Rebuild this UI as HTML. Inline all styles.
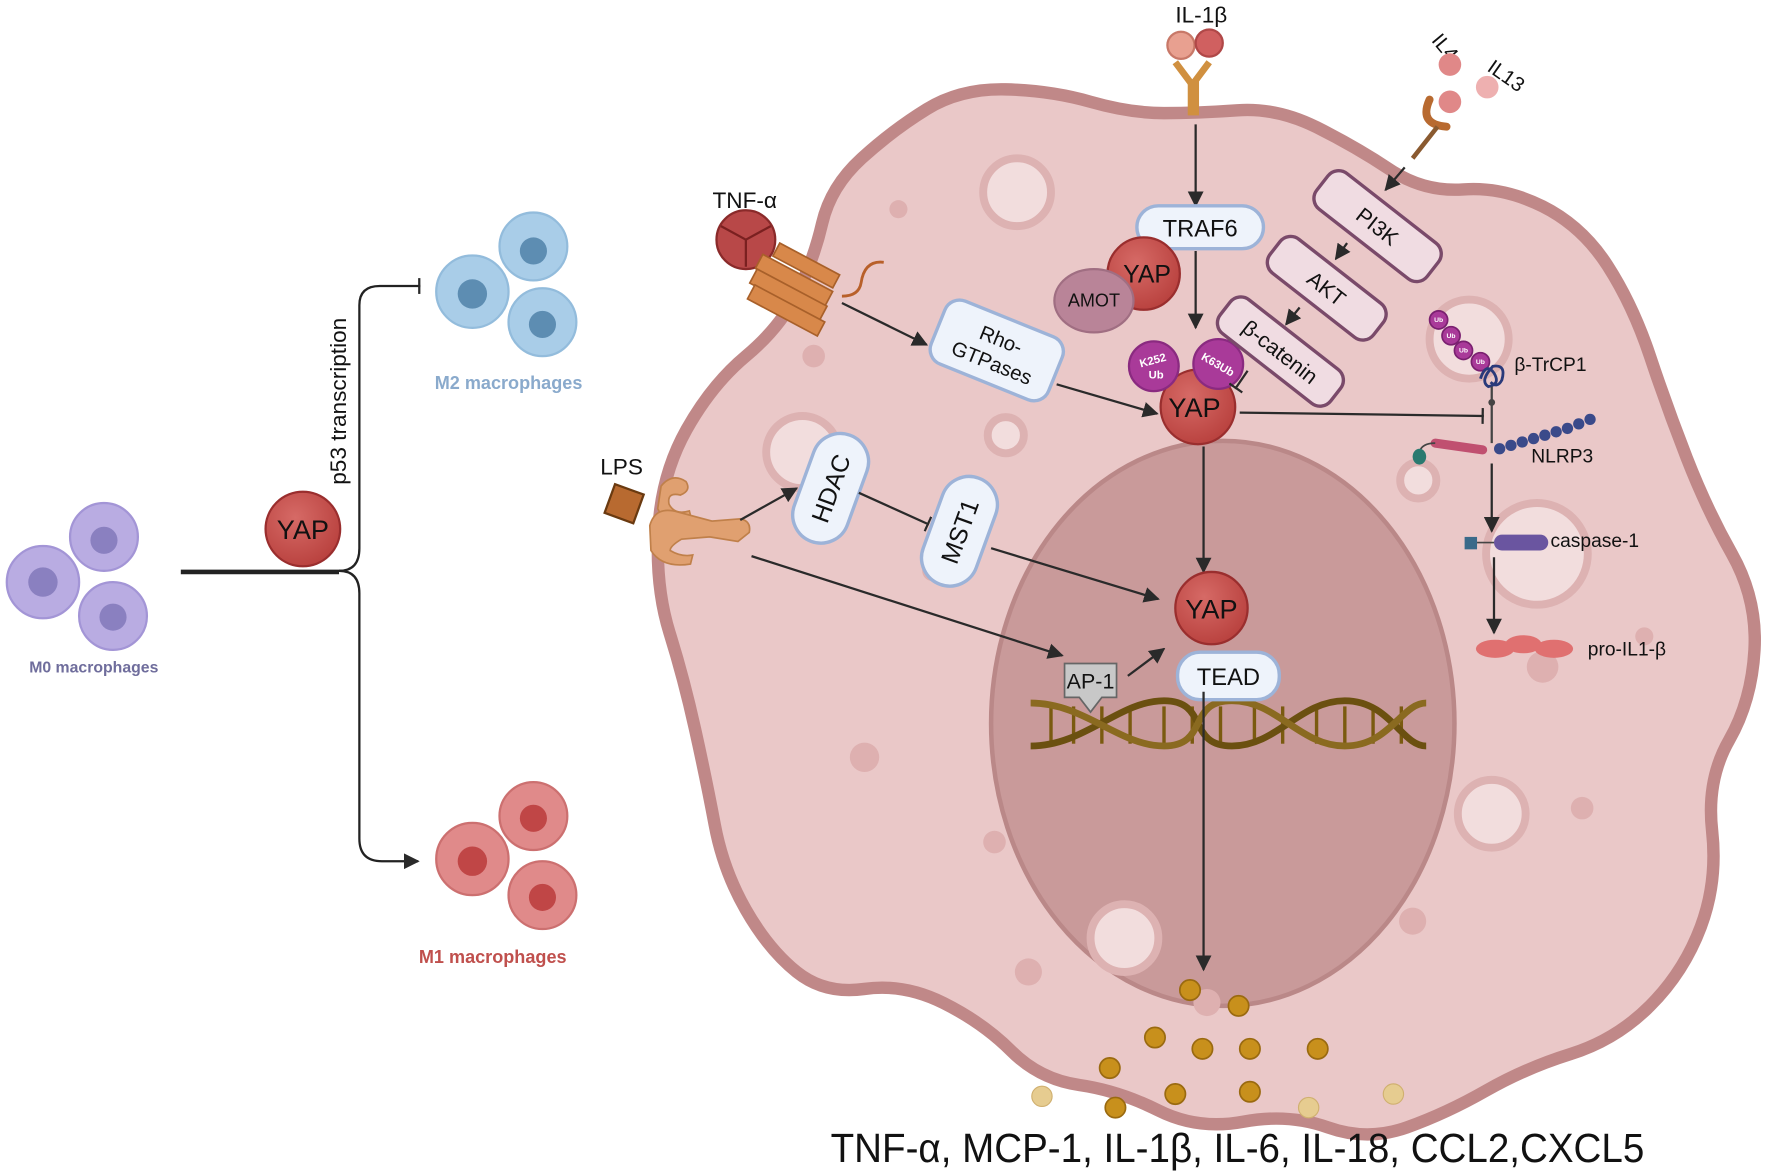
<!DOCTYPE html>
<html><head><meta charset="utf-8"><style>
html,body{margin:0;padding:0;background:#fff;}
svg{display:block;}
text{font-family:"Liberation Sans",sans-serif;}
</style></head><body>
<svg width="1772" height="1171" viewBox="0 0 1568 1036" xmlns="http://www.w3.org/2000/svg">
<defs>
<marker id="ar" viewBox="0 0 10 10" refX="9" refY="5" markerWidth="7" markerHeight="7" orient="auto"><path d="M0,0 L10,5 L0,10 z" fill="#2a2a2a"/></marker>
<marker id="tb" viewBox="0 0 4 14" refX="2" refY="7" markerWidth="4" markerHeight="14" markerUnits="userSpaceOnUse" orient="auto"><rect x="0" y="0" width="2" height="14" fill="#2a2a2a"/></marker>
<radialGradient id="yg" cx="0.4" cy="0.35" r="0.7"><stop offset="0" stop-color="#d66a66"/><stop offset="1" stop-color="#b8403d"/></radialGradient>
</defs>
<rect width="1568" height="1036" fill="#fff"/>

<path d="M762.5,140 Q790,115 820,96.5 Q850,78 890,79 Q930,80 965,90 Q1000,100 1030,100 Q1060,100 1095,97.5 Q1130,95 1165,112.5 Q1200,130 1230,150 Q1260,170 1295,167.5 Q1330,165 1365,182.5 Q1400,200 1422.5,235 Q1445,270 1460,315 Q1475,360 1492.5,405 Q1510,450 1532.5,490 Q1555,530 1552.5,575 Q1550,620 1530,655 Q1510,690 1515,735 Q1520,780 1505,820 Q1490,860 1460,890 Q1430,920 1390,932.5 Q1350,945 1315,965 Q1280,985 1245,997.5 Q1210,1010 1175,997.5 Q1140,985 1100,992.5 Q1060,1000 1025,982.5 Q990,965 955,960 Q920,955 895,930 Q870,905 835,887.5 Q800,870 765,875 Q730,880 705,860 Q680,840 660,805 Q640,770 632.5,730 Q625,690 615,645 Q605,600 592.5,560 Q580,520 582.5,470 Q585,420 607.5,380 Q630,340 660,315 Q690,290 705,260 Q720,230 727.5,197.5 Q735,165 762.5,140 Z" fill="#eac8c8" stroke="#c08888" stroke-width="11"/>
<ellipse cx="1082" cy="640" rx="205" ry="250" fill="#c99a9a" stroke="#ba8888" stroke-width="4"/>

<g fill="#f2dddd" stroke="#ddb2b2" stroke-width="7">
<circle cx="900" cy="170" r="30"/><circle cx="1300" cy="300" r="35"/><circle cx="710" cy="400" r="32"/><circle cx="890" cy="385" r="16"/><circle cx="1255" cy="425" r="16"/><circle cx="1360" cy="490" r="45"/><circle cx="1320" cy="720" r="30"/><circle cx="995" cy="830" r="30"/>
</g>
<g fill="#deb0b0">
<circle cx="795" cy="185" r="8"/><circle cx="720" cy="315" r="10"/><circle cx="765" cy="670" r="13"/><circle cx="880" cy="745" r="10"/><circle cx="1400" cy="715" r="10"/><circle cx="1250" cy="815" r="12"/><circle cx="910" cy="860" r="12"/><circle cx="1068" cy="887" r="12"/><circle cx="1365" cy="590" r="14"/><circle cx="1455" cy="563" r="8"/><circle cx="825" cy="505" r="9"/>
</g>

<g>
<circle cx="38" cy="515" r="32" fill="#b9ace2" stroke="#a395d6" stroke-width="2"/><circle cx="38" cy="515" r="13" fill="#8a80c0"/>
<circle cx="92" cy="475" r="30" fill="#b9ace2" stroke="#a395d6" stroke-width="2"/><circle cx="92" cy="478" r="12" fill="#8a80c0"/>
<circle cx="100" cy="545" r="30" fill="#b9ace2" stroke="#a395d6" stroke-width="2"/><circle cx="100" cy="546" r="12" fill="#8a80c0"/>
<text x="83" y="595" font-size="14" font-weight="bold" fill="#6f6d9c" text-anchor="middle">M0 macrophages</text>
<path d="M160,505 H300 Q318,505 318,485 V270 Q318,253 336,253 H372" fill="none" stroke="#222" stroke-width="2" marker-end="url(#tb)"/>
<path d="M300,505 Q318,505 318,525 V742 Q318,762 338,762 H370" fill="none" stroke="#222" stroke-width="2" marker-end="url(#ar)"/>
<line x1="160" y1="507" x2="300" y2="507" stroke="#222" stroke-width="2"/>
<circle cx="268" cy="468" r="33" fill="url(#yg)" stroke="#9a2e2e" stroke-width="2"/>
<text x="268" y="477" font-size="24" text-anchor="middle" fill="#111">YAP</text>
<text transform="translate(306,355) rotate(-90)" font-size="20" text-anchor="middle" fill="#111">p53 transcription</text>
<circle cx="418" cy="258" r="32" fill="#a9cde8" stroke="#93bcdc" stroke-width="2"/><circle cx="418" cy="260" r="13" fill="#5d8db2"/>
<circle cx="472" cy="218" r="30" fill="#a9cde8" stroke="#93bcdc" stroke-width="2"/><circle cx="472" cy="222" r="12" fill="#5d8db2"/>
<circle cx="480" cy="285" r="30" fill="#a9cde8" stroke="#93bcdc" stroke-width="2"/><circle cx="480" cy="287" r="12" fill="#5d8db2"/>
<text x="450" y="344" font-size="16" font-weight="bold" fill="#8aaacc" text-anchor="middle">M2 macrophages</text>
<circle cx="418" cy="760" r="32" fill="#e08a8a" stroke="#cc7070" stroke-width="2"/><circle cx="418" cy="762" r="13" fill="#c04646"/>
<circle cx="472" cy="722" r="30" fill="#e08a8a" stroke="#cc7070" stroke-width="2"/><circle cx="472" cy="724" r="12" fill="#c04646"/>
<circle cx="480" cy="792" r="30" fill="#e08a8a" stroke="#cc7070" stroke-width="2"/><circle cx="480" cy="794" r="12" fill="#c04646"/>
<text x="436" y="852" font-size="16" font-weight="bold" fill="#c0504d" text-anchor="middle">M1 macrophages</text>
</g>

<text x="1063" y="20" font-size="20" text-anchor="middle" fill="#111">IL-1β</text>
<circle cx="1045" cy="40" r="12" fill="#e8a090" stroke="#c87868" stroke-width="2"/><circle cx="1070" cy="38" r="12" fill="#d06060" stroke="#b04848" stroke-width="2"/>
<path d="M1040,55 L1055,75 L1070,55" fill="none" stroke="#d09040" stroke-width="6"/>
<rect x="1051" y="72" width="10" height="30" fill="#d09040"/>
<line x1="1058" y1="110" x2="1058" y2="182" stroke="#2a2a2a" stroke-width="2" marker-end="url(#ar)"/>

<text transform="translate(1266,36) rotate(50)" font-size="18" fill="#111">IL4,</text>
<text transform="translate(1315,62) rotate(35)" font-size="18" fill="#111">IL13</text>
<circle cx="1283" cy="57" r="10" fill="#e08888"/><circle cx="1316" cy="77" r="10" fill="#eeb0b0"/><circle cx="1283" cy="90" r="10" fill="#e08888"/>
<path d="M1265,88 Q1255,110 1280,112" fill="none" stroke="#b86a30" stroke-width="7" stroke-linecap="round"/>
<line x1="1272" y1="112" x2="1250" y2="140" stroke="#8a5a30" stroke-width="4"/>
<line x1="1243" y1="148" x2="1226" y2="168" stroke="#2a2a2a" stroke-width="2" marker-end="url(#ar)"/>

<rect x="1006" y="182" width="112" height="38" rx="19" fill="#eef3fb" stroke="#9db3d8" stroke-width="3"/>
<text x="1062" y="209" font-size="21" text-anchor="middle" fill="#111">TRAF6</text>
<circle cx="1012" cy="242" r="32" fill="url(#yg)" stroke="#9a2e2e" stroke-width="2"/>
<ellipse cx="968" cy="266" rx="35" ry="28" fill="#b98498" stroke="#a06e82" stroke-width="2"/>
<text x="1015" y="250" font-size="22" text-anchor="middle" fill="#111">YAP</text>
<text x="968" y="271" font-size="16" text-anchor="middle" fill="#111">AMOT</text>
<line x1="1058" y1="222" x2="1058" y2="290" stroke="#2a2a2a" stroke-width="2" marker-end="url(#ar)"/>

<circle cx="1060" cy="360" r="33" fill="url(#yg)" stroke="#9a2e2e" stroke-width="2"/>
<text x="1057" y="369" font-size="24" text-anchor="middle" fill="#111">YAP</text>
<circle cx="1021" cy="324" r="22" fill="#a93a99" stroke="#8a2a80" stroke-width="2"/>
<circle cx="1078" cy="322" r="22" fill="#a93a99" stroke="#8a2a80" stroke-width="2"/>
<text x="1021" y="322" font-size="10" font-weight="bold" text-anchor="middle" fill="#fff" transform="rotate(-15 1021 322)">K252</text>
<text x="1023" y="335" font-size="10" font-weight="bold" text-anchor="middle" fill="#fff">Ub</text>
<text x="1078" y="326" font-size="10" font-weight="bold" text-anchor="middle" fill="#fff" transform="rotate(30 1078 322)">K63Ub</text>

<g transform="translate(1219,200) rotate(38)"><rect x="-62" y="-20" width="124" height="40" rx="12" fill="#f0dce2" stroke="#7a4a6a" stroke-width="3"/><text y="7" font-size="19" text-anchor="middle" fill="#111">PI3K</text></g>
<g transform="translate(1174,255) rotate(38)"><rect x="-58" y="-19" width="116" height="38" rx="12" fill="#f0dce2" stroke="#7a4a6a" stroke-width="3"/><text y="7" font-size="19" text-anchor="middle" fill="#111">AKT</text></g>
<g transform="translate(1133,311) rotate(38)"><rect x="-62" y="-19" width="124" height="38" rx="12" fill="#f0dce2" stroke="#7a4a6a" stroke-width="3"/><text y="7" font-size="19" text-anchor="middle" fill="#111">β-catenin</text></g>
<line x1="1192" y1="215" x2="1182" y2="229" stroke="#2a2a2a" stroke-width="2" marker-end="url(#ar)"/>
<line x1="1150" y1="272" x2="1138" y2="287" stroke="#2a2a2a" stroke-width="2" marker-end="url(#ar)"/>
<line x1="1104" y1="328" x2="1093" y2="344" stroke="#2a2a2a" stroke-width="2" marker-end="url(#tb)"/>

<text x="659" y="184" font-size="20" text-anchor="middle" fill="#111">TNF-α</text>
<circle cx="660" cy="212" r="26" fill="#b84848" stroke="#8a2a2a" stroke-width="2"/>
<path d="M660,212 L660,236 M660,212 L638,200 M660,212 L682,200" stroke="#7a2020" stroke-width="2"/>
<g fill="#d8884a" stroke="#a8602a" stroke-width="1.5">
<rect x="675" y="225" width="70" height="14" transform="rotate(28 675 225)"/>
<rect x="670" y="238" width="70" height="14" transform="rotate(28 670 238)"/>
<rect x="668" y="252" width="70" height="14" transform="rotate(28 668 252)"/>
<rect x="690" y="215" width="60" height="13" transform="rotate(28 690 215)"/>
</g>
<path d="M745,262 Q760,262 762,250 Q765,230 782,232" fill="none" stroke="#b8602a" stroke-width="2.5"/>
<line x1="745" y1="268" x2="820" y2="305" stroke="#2a2a2a" stroke-width="2" marker-end="url(#ar)"/>
<g transform="translate(882,310) rotate(22)"><rect x="-56" y="-30" width="112" height="60" rx="14" fill="#eef3fb" stroke="#9db3d8" stroke-width="3"/><text y="-4" font-size="18" text-anchor="middle" fill="#111">Rho-</text><text y="18" font-size="18" text-anchor="middle" fill="#111">GTPases</text></g>
<line x1="935" y1="340" x2="1024" y2="366" stroke="#2a2a2a" stroke-width="2" marker-end="url(#ar)"/>

<line x1="1097" y1="365" x2="1313" y2="368" stroke="#2a2a2a" stroke-width="2" marker-end="url(#tb)"/>

<g fill="#a93a99" stroke="#7a2070" stroke-width="1.5">
<circle cx="1273" cy="283" r="8"/><circle cx="1284" cy="297" r="8"/><circle cx="1295" cy="310" r="8"/><circle cx="1310" cy="320" r="8"/>
</g>
<g font-size="6" font-weight="bold" fill="#fff" text-anchor="middle"><text x="1273" y="285">Ub</text><text x="1284" y="299">Ub</text><text x="1295" y="312">Ub</text><text x="1310" y="322">Ub</text></g>
<path d="M1310,335 q5,-15 12,-5 q6,10 -5,12 q-8,-5 4,-18 q12,-2 8,12 q-4,8 -10,2" fill="none" stroke="#2a3a7a" stroke-width="2.5"/>
<text x="1340" y="328" font-size="17" fill="#111">β-TrCP1</text>
<line x1="1320" y1="342" x2="1320" y2="392" stroke="#444" stroke-width="2"/>
<circle cx="1320" cy="356" r="3" fill="#444"/>
<line x1="1270" y1="392" x2="1312" y2="398" stroke="#c05070" stroke-width="8" stroke-linecap="round"/>
<path d="M1270,392 q-12,0 -14,8" fill="none" stroke="#444" stroke-width="1.5"/>
<ellipse cx="1256" cy="404" rx="6" ry="7" fill="#2a7a70"/>
<g fill="#3a4a8a">
<circle cx="1327" cy="397" r="5"/><circle cx="1337" cy="394" r="5"/><circle cx="1347" cy="391" r="5"/><circle cx="1357" cy="388" r="5"/><circle cx="1367" cy="385" r="5"/><circle cx="1377" cy="382" r="5"/><circle cx="1387" cy="379" r="5"/><circle cx="1397" cy="375" r="5"/><circle cx="1407" cy="371" r="5"/>
</g>
<text x="1355" y="409" font-size="17" fill="#111">NLRP3</text>
<line x1="1320" y1="410" x2="1320" y2="470" stroke="#2a2a2a" stroke-width="2" marker-end="url(#ar)"/>
<rect x="1296" y="475" width="11" height="11" fill="#3a6a8a"/>
<line x1="1307" y1="480" x2="1322" y2="480" stroke="#444" stroke-width="1.5"/>
<rect x="1322" y="473" width="48" height="14" rx="7" fill="#6a55a0"/>
<text x="1372" y="484" font-size="17" fill="#111">caspase-1</text>
<line x1="1322" y1="493" x2="1322" y2="560" stroke="#2a2a2a" stroke-width="2" marker-end="url(#ar)"/>
<ellipse cx="1323" cy="574" rx="17" ry="8" fill="#e07070"/><ellipse cx="1348" cy="570" rx="16" ry="8" fill="#e07070"/><ellipse cx="1375" cy="574" rx="17" ry="8" fill="#e07070"/>
<text x="1405" y="580" font-size="17" fill="#111">pro-IL1-β</text>

<line x1="1065" y1="395" x2="1065" y2="506" stroke="#2a2a2a" stroke-width="2" marker-end="url(#ar)"/>
<g stroke="#7a5a10" stroke-width="3">
<line x1="930" y1="625" x2="930" y2="658"/><line x1="950" y1="625" x2="950" y2="658"/><line x1="975" y1="625" x2="975" y2="658"/><line x1="1000" y1="625" x2="1000" y2="658"/><line x1="1030" y1="625" x2="1030" y2="658"/><line x1="1055" y1="625" x2="1055" y2="658"/><line x1="1080" y1="625" x2="1080" y2="658"/><line x1="1110" y1="625" x2="1110" y2="658"/><line x1="1135" y1="625" x2="1135" y2="658"/><line x1="1165" y1="625" x2="1165" y2="658"/><line x1="1190" y1="625" x2="1190" y2="658"/><line x1="1215" y1="625" x2="1215" y2="658"/><line x1="1240" y1="625" x2="1240" y2="658"/>
</g>
<path d="M912,660 C960,660 990,620 1030,620 C1070,620 1050,660 1090,660 C1130,660 1150,620 1190,620 C1230,620 1240,660 1262,660" fill="none" stroke="#6b5010" stroke-width="6"/>
<path d="M912,622 C960,622 990,660 1030,660 C1070,660 1050,620 1090,620 C1130,620 1150,660 1190,660 C1230,660 1240,622 1262,622" fill="none" stroke="#8a6a20" stroke-width="6"/>
<circle cx="1072" cy="538" r="32" fill="url(#yg)" stroke="#9a2e2e" stroke-width="2"/>
<text x="1072" y="547" font-size="24" text-anchor="middle" fill="#111">YAP</text>
<rect x="1042" y="577" width="90" height="42" rx="20" fill="#eef3fb" stroke="#9db3d8" stroke-width="3"/>
<text x="1087" y="606" font-size="21" text-anchor="middle" fill="#111">TEAD</text>
<path d="M942,587 H988 V617 H975 L965,630 L955,617 H942 Z" fill="#c8c8c8" stroke="#666" stroke-width="1.5"/>
<text x="965" y="609" font-size="19" text-anchor="middle" fill="#111">AP-1</text>
<line x1="998" y1="598" x2="1030" y2="574" stroke="#2a2a2a" stroke-width="2" marker-end="url(#ar)"/>
<line x1="1065" y1="612" x2="1065" y2="858" stroke="#2a2a2a" stroke-width="2" marker-end="url(#ar)"/>

<text x="550" y="420" font-size="20" text-anchor="middle" fill="#111">LPS</text>
<rect x="539" y="432" width="27" height="27" fill="#b86a30" stroke="#6a3a10" stroke-width="2" transform="rotate(20 552 445)"/>
<g fill="#e0a070" stroke="#c0804a" stroke-width="1.5">
<path d="M585,430 q10,-12 22,-4 q5,8 -5,12 q-12,-3 -10,8 q5,10 18,6 l2,8 q-22,8 -30,-10 z"/>
<path d="M575,465 q5,-18 25,-12 l30,8 l25,-2 q10,2 8,12 l-10,8 l-25,-4 l-25,2 q-10,6 -10,10 q10,6 20,4 l-2,8 q-25,4 -35,-12 z"/>
</g>
<line x1="655" y1="460" x2="705" y2="432" stroke="#2a2a2a" stroke-width="2" marker-end="url(#ar)"/>
<g transform="translate(735,432) rotate(-70)"><rect x="-50" y="-25" width="100" height="50" rx="25" fill="#eef3fb" stroke="#9db3d8" stroke-width="3"/><text y="8" font-size="22" text-anchor="middle" fill="#111">HDAC</text></g>
<line x1="760" y1="436" x2="822" y2="464" stroke="#2a2a2a" stroke-width="2" marker-end="url(#tb)"/>
<g transform="translate(849,470) rotate(-70)"><rect x="-50" y="-25" width="100" height="50" rx="25" fill="#eef3fb" stroke="#9db3d8" stroke-width="3"/><text y="8" font-size="22" text-anchor="middle" fill="#111">MST1</text></g>
<line x1="877" y1="485" x2="1025" y2="530" stroke="#2a2a2a" stroke-width="2" marker-end="url(#ar)"/>
<line x1="665" y1="492" x2="940" y2="580" stroke="#2a2a2a" stroke-width="2" marker-end="url(#ar)"/>

<g fill="#c8901c" stroke="#9a6a10" stroke-width="1.5">
<circle cx="1053" cy="876" r="9"/><circle cx="1096" cy="890" r="9"/><circle cx="1022" cy="918" r="9"/><circle cx="1064" cy="928" r="9"/><circle cx="1106" cy="928" r="9"/><circle cx="1166" cy="928" r="9"/><circle cx="982" cy="945" r="9"/><circle cx="1040" cy="968" r="9"/><circle cx="1106" cy="966" r="9"/><circle cx="987" cy="980" r="9"/>
</g>
<g fill="#e6cc90" stroke="#d0b070" stroke-width="1"><circle cx="922" cy="970" r="9"/><circle cx="1158" cy="980" r="9"/><circle cx="1233" cy="968" r="9"/></g>
<text x="735" y="1028" font-size="36" fill="#111" textLength="720" lengthAdjust="spacingAndGlyphs">TNF-α, MCP-1, IL-1β, IL-6, IL-18, CCL2,CXCL5</text>
</svg>
</body></html>
